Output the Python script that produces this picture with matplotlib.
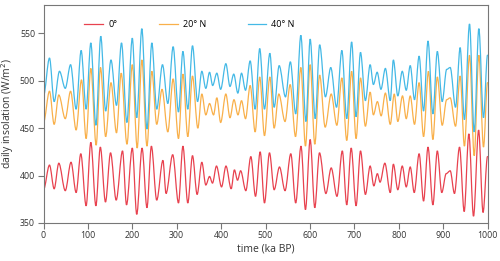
import matplotlib
matplotlib.use('Agg')
import matplotlib.pyplot as plt
from matplotlib.path import Path
from matplotlib.patches import PathPatch
from matplotlib.lines import Line2D

plt.rcParams['font.family'] = ['Open Sans', 'DejaVu Sans']
plt.rcParams['font.size'] = 7

# ---------------------------------------------------------------------------------------------------------------------
# turning points (peaks / troughs), time in ka BP, insolation in W/m2
t_eq = [0, 13.5, 24, 34.5, 49, 62, 73.5, 84, 96, 106.6, 118, 128, 139.6, 151, 163.7, 178, 187, 200, 210, 222, 233,
        243, 255, 269, 276, 291, 304, 314, 325, 335.6, 346, 356.6, 365.6, 374, 380.6, 389.6, 401, 411, 422.7, 430,
        437, 444, 455.7, 467, 477.5, 488, 497.7, 509, 519.5, 531.5, 544, 557, 568, 580, 590, 600.6, 611, 621.6, 636,
        648, 661, 673, 683, 693, 704, 714, 725, 735.7, 744, 752, 758, 768.8, 781, 788, 798, 808, 817, 826, 835, 846,
        856, 866, 877, 887, 897, 907, 916, 925.6, 937, 947.5, 958, 968.5, 980, 990, 1000]
v_eq = [385, 411, 386, 413, 384, 414, 382, 423, 368, 435, 368, 430, 372, 424, 374, 426, 369, 429, 359, 429, 366,
        431, 374, 416, 381, 422, 371, 431, 371, 421, 380, 414, 390, 399, 392, 410, 388, 410, 386, 406,
        395, 405, 384, 420, 378, 425, 371, 424, 385, 409, 384, 423, 371, 431, 364, 438, 366, 424, 381,
        408, 378, 426, 369, 429, 368, 426, 380, 410, 389, 402, 393, 413, 382, 412, 385, 410, 388, 409, 382, 423,
        373, 430, 369, 426, 382, 402, 405, 381, 430, 362, 444, 357, 448, 361, 420]

t_20n = [0, 13.5, 24, 34.5, 49, 61, 73.5, 85.6, 96, 106.6, 118.6, 128.4, 140, 152, 164.4, 175, 188, 200, 211, 221.5,
         233, 244, 255, 267, 280, 292, 304, 314, 325, 335.6, 347.6, 356.6, 365.6, 374, 383, 390.4, 399, 410.7, 420,
         429, 438, 446, 455, 465.5, 476.7, 487, 497.7, 509.8, 519.5, 530, 544, 555.6, 567.6, 579.6, 590, 600.6, 611,
         622, 634.4, 648, 660.7, 672, 683, 694, 704, 714, 725, 735.7, 743, 752, 760.5, 770, 781, 790, 798, 808.6,
         817, 826, 835.6, 846, 856, 867, 877, 887, 898, 908, 916, 928, 938.4, 948, 959.5, 970, 980.5, 991, 1000]
v_20n = [456, 489, 454, 485, 460, 489, 448, 501, 439, 513, 432, 514, 441, 498, 445, 508, 433, 517, 429, 522,
         431, 510, 454, 491, 446, 502, 439, 507, 441, 505, 450, 486, 464, 476, 464, 482, 456, 486, 461,
         480, 464, 479, 460, 495, 446, 504, 442, 504, 450, 486, 457, 496, 441, 514, 431, 517, 433,
         506, 451, 486, 453, 503, 437, 510, 439, 503, 452, 488, 464, 478, 463, 487, 454, 486, 457, 484,
         460, 484, 454, 498, 441, 510, 438, 504, 453, 480, 482, 452, 505, 431, 527, 421, 527, 430, 498]

t_40n = [0, 13.5, 24, 36, 49, 61, 73.5, 84.8, 96, 106.6, 118, 129, 140, 152, 164.4, 175.7, 187.7, 200, 210, 221.5,
         233, 244, 255, 268, 280, 292, 304, 314, 325, 335.6, 347, 356.6, 365.6, 374, 381, 390.4, 399, 410.7, 420,
         428.5, 437.7, 446, 455, 465.5, 476.7, 487, 497.7, 509.8, 519.5, 530.8, 545, 556, 568, 579.6, 591, 600.6, 612,
         622, 635, 647, 660, 672, 683, 694, 704, 714, 725, 735.7, 743, 751.5, 760, 770, 781, 788, 798, 808, 817,
         826, 835.6, 846, 856, 866, 877, 887, 898, 908, 916, 928, 938.4, 948, 959.5, 970, 980.5, 991, 1000]
v_40n = [484, 524, 478, 510, 492, 517, 470, 532, 470, 540, 453, 547, 468, 522, 474, 540, 456, 545, 461, 555,
         449, 540, 470, 517, 476, 536, 467, 531, 470, 537, 478, 510, 492, 509, 495, 508, 491, 518, 494,
         507, 487, 508, 490, 521, 470, 534, 470, 529, 472, 516, 483, 520, 465, 548, 457, 544, 460,
         538, 483, 514, 472, 532, 460, 541, 462, 530, 479, 517, 496, 509, 491, 513, 479, 522, 484, 510, 490,
         516, 480, 526, 468, 542, 465, 531, 478, 512, 514, 472, 535, 459, 560, 446, 555, 461, 527]

labels = ['0°', '20° N', '40° N']
colors = ['#e8424f', '#f9b04a', '#44b9e6']


# ---------------------------------------------------------------------------------------------------------------------
def wave_path(t, v):
    """
    Smooth path through the turning points, flat tangent at every peak and trough
    """
    verts = [(t[0], v[0])]
    codes = [Path.MOVETO]
    for i in range(len(t) - 1):
        dt = t[i + 1] - t[i]
        verts += [(t[i] + dt / 3, v[i]), (t[i + 1] - dt / 3, v[i + 1]), (t[i + 1], v[i + 1])]
        codes += [Path.CURVE4] * 3
    return Path(verts, codes)


fig = plt.figure(figsize=(5, 2.61), dpi=100)
ax = fig.add_axes([0.087, 0.146, 0.888, 0.835])

for (t, v), c in zip([(t_eq, v_eq), (t_20n, v_20n), (t_40n, v_40n)], colors):
    ax.add_patch(PathPatch(wave_path(t, v), fill=False, edgecolor=c, lw=0.9, capstyle='round'))

ax.set_xlim(0, 1000)
ax.set_ylim(350, 580)
ax.set_xticks(range(0, 1001, 100))
ax.set_yticks([350, 400, 450, 500, 550])
ax.set_xlabel('time (ka BP)', fontsize=7.5, color='#333333', labelpad=2)
ax.set_ylabel('daily insolation (W/m$^2$)', fontsize=7.5, color='#333333', labelpad=3)

for s in ax.spines.values():
    s.set_color('#777777')
    s.set_linewidth(0.8)
ax.tick_params(axis='both', direction='out', length=4.5, width=0.8, color='#777777', labelcolor='#333333',
               labelsize=6.3, pad=1.5)

handles = [Line2D([], [], color=c, lw=0.9) for c in colors]
ax.legend(handles, labels, ncol=3, frameon=False, loc='upper left', bbox_to_anchor=(0.092, 0.93),
          borderpad=0, borderaxespad=0, handlelength=2.1, handletextpad=0.55, columnspacing=4.6, fontsize=6.5)

fig.savefig('out.png', dpi=100)
